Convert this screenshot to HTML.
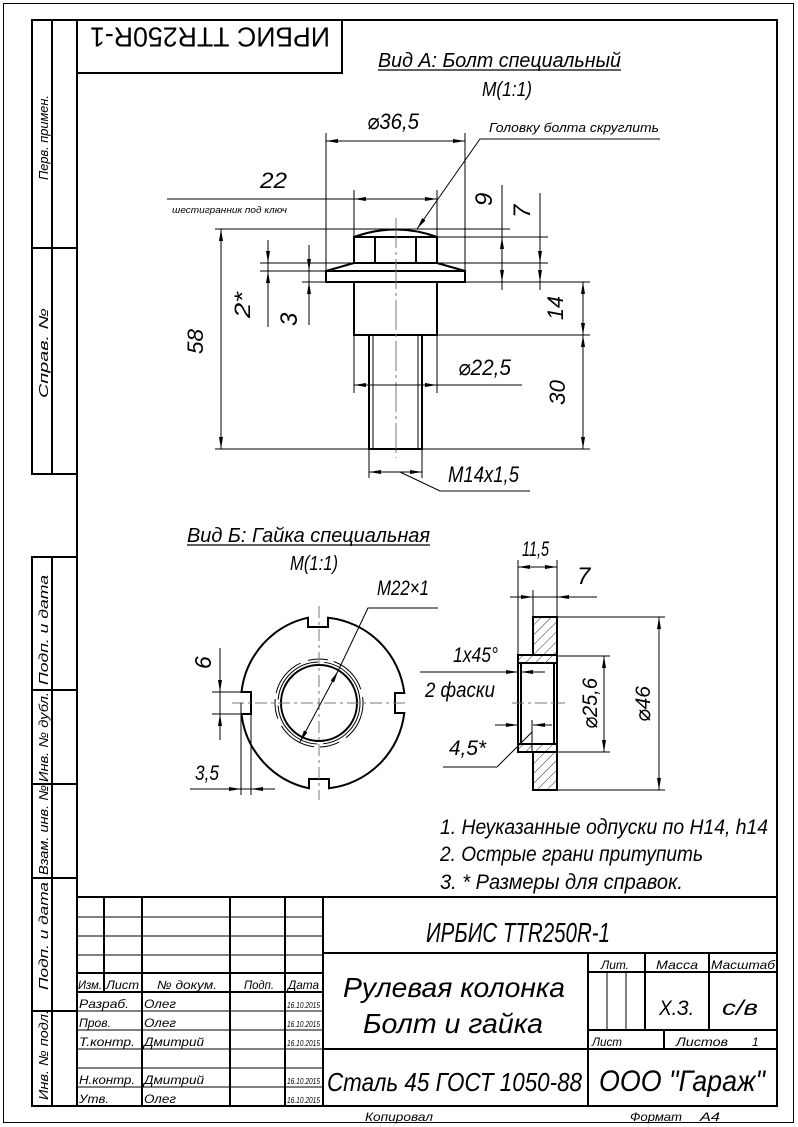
<!DOCTYPE html>
<html><head><meta charset="utf-8"><style>
html,body{margin:0;padding:0;background:#fff}
svg{display:block}
text{font-family:"Liberation Sans","DejaVu Sans",sans-serif;font-style:italic;fill:#000}
</style></head><body>
<svg width="798" height="1127" viewBox="0 0 798 1127" xmlns="http://www.w3.org/2000/svg">
<defs>
<marker id="a" viewBox="0 0 12 6" refX="12" refY="3" markerWidth="12" markerHeight="6" markerUnits="userSpaceOnUse" orient="auto-start-reverse"><path d="M0,1 L12,3 L0,5 z" fill="#000"/></marker>
<pattern id="h" width="7" height="7" patternUnits="userSpaceOnUse" patternTransform="rotate(45)"><line x1="0" y1="0" x2="0" y2="7" stroke="#000" stroke-width="0.8"/></pattern>
</defs>
<rect x="3.5" y="3.5" width="790" height="1119" fill="none" stroke="#000" stroke-width="1"/>
<rect x="77" y="20" width="700" height="1086" fill="none" stroke="#000" stroke-width="2"/>
<g fill="none" stroke="#000" stroke-width="2">
<rect x="32" y="20" width="45" height="454"/>
<line x1="52" y1="20" x2="52" y2="474"/>
<line x1="32" y1="248" x2="77" y2="248"/>
<rect x="32" y="557" width="45" height="549"/>
<line x1="52" y1="557" x2="52" y2="1106"/>
<line x1="32" y1="690" x2="77" y2="690"/>
<line x1="32" y1="784" x2="77" y2="784"/>
<line x1="32" y1="878" x2="77" y2="878"/>
<line x1="32" y1="1011" x2="77" y2="1011"/>
<rect x="77" y="20" width="265" height="53"/>
</g>
<g font-size="13">
<text transform="translate(48,180) rotate(-90)" textLength="85" lengthAdjust="spacingAndGlyphs">Перв. примен.</text>
<text transform="translate(48,398) rotate(-90)" textLength="90" lengthAdjust="spacingAndGlyphs">Справ. №</text>
<text transform="translate(48,685) rotate(-90)" textLength="110" lengthAdjust="spacingAndGlyphs">Подп. и дата</text>
<text transform="translate(48,782) rotate(-90)" textLength="90" lengthAdjust="spacingAndGlyphs">Инв. № дубл.</text>
<text transform="translate(48,875) rotate(-90)" textLength="90" lengthAdjust="spacingAndGlyphs">Взам. инв. №</text>
<text transform="translate(48,990) rotate(-90)" textLength="108" lengthAdjust="spacingAndGlyphs">Подп. и дата</text>
<text transform="translate(48,1100) rotate(-90)" textLength="90" lengthAdjust="spacingAndGlyphs">Инв. № подл.</text>
</g>
<text transform="translate(330,35) rotate(180)" font-size="28" textLength="240" lengthAdjust="spacingAndGlyphs" dominant-baseline="middle" style="font-style:normal">ИРБИС TTR250R-1</text>

<text x="378" y="67" font-size="20" textLength="243" lengthAdjust="spacingAndGlyphs">Вид А: Болт специальный</text>
<line x1="378" y1="70" x2="621" y2="70" stroke="#000" stroke-width="1.2"/>
<text x="482" y="96" font-size="20" textLength="50" lengthAdjust="spacingAndGlyphs">M(1:1)</text>

<g fill="none" stroke="#000" stroke-width="2">
<path d="M354,237 Q396,222 437,237"/>
<rect x="354" y="237" width="83" height="26"/>
<line x1="375" y1="237" x2="375" y2="263"/>
<line x1="416" y1="237" x2="416" y2="263"/>
<path d="M354,263 L326,271 M437,263 L465,271"/>
<rect x="326" y="271" width="139" height="11"/>
<rect x="354" y="282" width="83" height="53"/>
<rect x="369" y="335" width="53" height="114"/>
</g>
<g fill="none" stroke="#000" stroke-width="1">
<line x1="373" y1="335" x2="373" y2="449"/>
<line x1="418" y1="335" x2="418" y2="449"/>
<line x1="396" y1="218" x2="396" y2="458" stroke="#777" stroke-dasharray="30,4,3,4"/>
<line x1="326" y1="133" x2="326" y2="271"/>
<line x1="465" y1="133" x2="465" y2="271"/>
<line x1="354" y1="190" x2="354" y2="237"/>
<line x1="437" y1="190" x2="437" y2="237"/>
<line x1="215" y1="229" x2="510" y2="229"/>
<line x1="437" y1="237" x2="548" y2="237"/>
<line x1="260" y1="263" x2="354" y2="263"/>
<line x1="437" y1="263" x2="548" y2="263"/>
<line x1="260" y1="271" x2="326" y2="271"/>
<line x1="302" y1="282" x2="326" y2="282"/>
<line x1="465" y1="282" x2="590" y2="282"/>
<line x1="437" y1="335" x2="590" y2="335"/>
<line x1="215" y1="449" x2="590" y2="449"/>
<line x1="354" y1="335" x2="354" y2="393"/>
<line x1="437" y1="335" x2="437" y2="393"/>
<line x1="369" y1="449" x2="369" y2="478"/>
<line x1="422" y1="449" x2="422" y2="478"/>
<line x1="326" y1="141" x2="465" y2="141" marker-start="url(#a)" marker-end="url(#a)"/>
<line x1="167" y1="199" x2="354" y2="199"/>
<line x1="354" y1="199" x2="437" y2="199" marker-start="url(#a)" marker-end="url(#a)"/>
<polyline points="660,139 480,139 417,229" marker-end="url(#a)"/>
<line x1="221" y1="229" x2="221" y2="449" marker-start="url(#a)" marker-end="url(#a)"/>
<line x1="268" y1="240" x2="268" y2="263" marker-end="url(#a)"/>
<line x1="268" y1="263" x2="268" y2="271"/>
<line x1="268" y1="327" x2="268" y2="271" marker-end="url(#a)"/>
<line x1="309" y1="245" x2="309" y2="325"/>
<line x1="309" y1="250" x2="309" y2="271" marker-end="url(#a)"/>
<line x1="309" y1="303" x2="309" y2="282" marker-end="url(#a)"/>
<line x1="502" y1="185" x2="502" y2="290"/>
<line x1="502" y1="237" x2="502" y2="282" marker-start="url(#a)" marker-end="url(#a)"/>
<line x1="540" y1="193" x2="540" y2="290"/>
<line x1="540" y1="240" x2="540" y2="263" marker-end="url(#a)"/>
<line x1="540" y1="263" x2="540" y2="282" marker-end="url(#a)"/>
<line x1="583" y1="282" x2="583" y2="335" marker-start="url(#a)" marker-end="url(#a)"/>
<line x1="583" y1="335" x2="583" y2="449" marker-start="url(#a)" marker-end="url(#a)"/>
<line x1="354" y1="385" x2="522" y2="385"/>
<line x1="354" y1="385" x2="437" y2="385" marker-start="url(#a)" marker-end="url(#a)"/>
<line x1="369" y1="472" x2="422" y2="472" marker-start="url(#a)" marker-end="url(#a)"/>
<polyline points="400,472 440,491 530,491"/>
</g>
<g font-size="22">
<text x="367" y="129" textLength="52" lengthAdjust="spacingAndGlyphs">⌀36,5</text>
<text x="489" y="132" font-size="13" textLength="170" lengthAdjust="spacingAndGlyphs">Головку болта скруглить</text>
<text x="260" y="188" textLength="27" lengthAdjust="spacingAndGlyphs">22</text>
<text x="172" y="213" font-size="9" textLength="115" lengthAdjust="spacingAndGlyphs">шестигранник под ключ</text>
<text transform="translate(203,354) rotate(-90)" textLength="25" lengthAdjust="spacingAndGlyphs">58</text>
<text transform="translate(250,318) rotate(-90)" textLength="26" lengthAdjust="spacingAndGlyphs">2*</text>
<text transform="translate(297,326) rotate(-90)" font-size="24">3</text>
<text transform="translate(492,206) rotate(-90)" font-size="24">9</text>
<text transform="translate(530,218) rotate(-90)" font-size="24">7</text>
<text transform="translate(563,320) rotate(-90)" textLength="24" lengthAdjust="spacingAndGlyphs">14</text>
<text transform="translate(565,405) rotate(-90)" textLength="25" lengthAdjust="spacingAndGlyphs">30</text>
<text x="458" y="375" textLength="53" lengthAdjust="spacingAndGlyphs">⌀22,5</text>
<text x="448" y="482" textLength="71" lengthAdjust="spacingAndGlyphs">M14x1,5</text>
</g>

<text x="187" y="542" font-size="20" textLength="243" lengthAdjust="spacingAndGlyphs">Вид Б: Гайка специальная</text>
<line x1="187" y1="545" x2="430" y2="545" stroke="#000" stroke-width="1.2"/>
<text x="290" y="570" font-size="20" textLength="48" lengthAdjust="spacingAndGlyphs">M(1:1)</text>

<g fill="none" stroke="#000" stroke-width="2">
<path d="M308,617.7 L308,627 L328,627 L328,617.7 A86,86 0 0 1 404.3,693 L395,693 L395,713 L404.3,713 A86,86 0 0 1 329,788.3 L329,779 L309,779 L309,788.3 A86,86 0 0 1 241.5,714 L251,714 L251,692 L241.5,692 A86,86 0 0 1 308,617.7 Z"/>
<circle cx="319" cy="703" r="38"/>
</g>
<g fill="none" stroke="#000" stroke-width="1">
<circle cx="319" cy="703" r="41" stroke-dasharray="60,6"/>
<circle cx="319" cy="703" r="44" stroke-dasharray="40,8,20,6"/>
<line x1="319" y1="606" x2="319" y2="800" stroke="#777" stroke-dasharray="12,4,3,4"/>
<line x1="232" y1="703" x2="408" y2="703" stroke="#777" stroke-dasharray="12,4,3,4"/>
<line x1="300" y1="742" x2="338" y2="671" marker-start="url(#a)" marker-end="url(#a)"/>
<polyline points="338,671 368,608 438,608"/>
<line x1="212" y1="692" x2="251" y2="692"/>
<line x1="212" y1="714" x2="251" y2="714"/>
<line x1="220" y1="648" x2="220" y2="692" marker-end="url(#a)"/>
<line x1="220" y1="692" x2="220" y2="714"/>
<line x1="220" y1="740" x2="220" y2="714" marker-end="url(#a)"/>
<line x1="241" y1="703" x2="241" y2="795"/>
<line x1="251" y1="714" x2="251" y2="795"/>
<line x1="190" y1="789" x2="241" y2="789" marker-end="url(#a)"/>
<line x1="241" y1="789" x2="251" y2="789"/>
<line x1="275" y1="789" x2="251" y2="789" marker-end="url(#a)"/>
</g>
<g font-size="21">
<text x="377" y="595" textLength="52" lengthAdjust="spacingAndGlyphs">M22×1</text>
<text transform="translate(211,669) rotate(-90)" font-size="23">6</text>
<text x="195" y="780" textLength="24" lengthAdjust="spacingAndGlyphs">3,5</text>
</g>

<g stroke="#000" stroke-width="2">
<path d="M533,617 L557,617 L557,663 L518,663 L518,655 L533,655 Z" fill="url(#h)"/>
<path d="M533,790 L557,790 L557,744 L518,744 L518,752 L533,752 Z" fill="url(#h)"/>
<rect x="518" y="655" width="39" height="97" fill="none"/>
<rect x="521" y="663" width="33" height="81" fill="none"/>
</g>
<g fill="none" stroke="#000" stroke-width="1">
<line x1="512" y1="703" x2="565" y2="703" stroke="#777" stroke-dasharray="12,4,3,4"/>
<line x1="518" y1="560" x2="518" y2="655"/>
<line x1="557" y1="560" x2="557" y2="617"/>
<line x1="533" y1="590" x2="533" y2="617"/>
<line x1="518" y1="567" x2="557" y2="567" marker-start="url(#a)" marker-end="url(#a)"/>
<line x1="510" y1="597" x2="533" y2="597" marker-end="url(#a)"/>
<line x1="533" y1="597" x2="557" y2="597"/>
<line x1="597" y1="597" x2="557" y2="597" marker-end="url(#a)"/>
<line x1="557" y1="656" x2="610" y2="656"/>
<line x1="557" y1="752" x2="610" y2="752"/>
<line x1="604" y1="656" x2="604" y2="752" marker-start="url(#a)" marker-end="url(#a)"/>
<line x1="557" y1="617" x2="665" y2="617"/>
<line x1="557" y1="790" x2="665" y2="790"/>
<line x1="659" y1="617" x2="659" y2="790" marker-start="url(#a)" marker-end="url(#a)"/>
<line x1="420" y1="672" x2="518" y2="672" marker-end="url(#a)"/>
<line x1="545" y1="672" x2="521" y2="672" marker-end="url(#a)"/>
<line x1="495" y1="725" x2="518" y2="725" marker-end="url(#a)"/>
<line x1="552" y1="725" x2="533" y2="725" marker-end="url(#a)"/>
<line x1="532" y1="720" x2="532" y2="752"/>
<polyline points="532,732 497,767 443,767"/>
</g>
<g font-size="21">
<text x="522" y="556" textLength="27" lengthAdjust="spacingAndGlyphs">11,5</text>
<text x="577" y="584" font-size="24">7</text>
<text x="453" y="662" textLength="45" lengthAdjust="spacingAndGlyphs">1x45°</text>
<text x="425" y="697" textLength="70" lengthAdjust="spacingAndGlyphs">2 фаски</text>
<text x="449" y="755" textLength="37" lengthAdjust="spacingAndGlyphs">4,5*</text>
<text transform="translate(597,729) rotate(-90)" textLength="51" lengthAdjust="spacingAndGlyphs">⌀25,6</text>
<text transform="translate(650,722) rotate(-90)" textLength="36" lengthAdjust="spacingAndGlyphs">⌀46</text>
</g>

<g font-size="21">
<text x="440" y="834" textLength="328" lengthAdjust="spacingAndGlyphs">1. Неуказанные одпуски по H14, h14</text>
<text x="440" y="861" textLength="263" lengthAdjust="spacingAndGlyphs">2. Острые грани притупить</text>
<text x="440" y="889" textLength="243" lengthAdjust="spacingAndGlyphs">3.  * Размеры для справок.</text>
</g>

<g fill="none" stroke="#000" stroke-width="2">
<line x1="77" y1="897" x2="777" y2="897"/>
<line x1="104" y1="897" x2="104" y2="992"/>
<line x1="142" y1="897" x2="142" y2="1106"/>
<line x1="230" y1="897" x2="230" y2="1106"/>
<line x1="285" y1="897" x2="285" y2="1106"/>
<line x1="323" y1="897" x2="323" y2="1106"/>
<line x1="77" y1="973" x2="323" y2="973"/>
<line x1="77" y1="992" x2="323" y2="992"/>
<line x1="323" y1="953" x2="777" y2="953"/>
<line x1="323" y1="1049" x2="777" y2="1049"/>
<line x1="588" y1="953" x2="588" y2="1106"/>
<line x1="588" y1="972" x2="777" y2="972"/>
<line x1="588" y1="1030" x2="777" y2="1030"/>
<line x1="645" y1="953" x2="645" y2="1030"/>
<line x1="709" y1="953" x2="709" y2="1030"/>
<line x1="664" y1="1030" x2="664" y2="1049"/>
</g>
<g fill="none" stroke="#000" stroke-width="1">
<line x1="77" y1="917" x2="323" y2="917"/>
<line x1="77" y1="936" x2="323" y2="936"/>
<line x1="77" y1="955" x2="323" y2="955"/>
<line x1="77" y1="1011" x2="323" y2="1011"/>
<line x1="77" y1="1030" x2="323" y2="1030"/>
<line x1="77" y1="1049" x2="323" y2="1049"/>
<line x1="77" y1="1068" x2="323" y2="1068"/>
<line x1="77" y1="1087" x2="323" y2="1087"/>
<line x1="607" y1="972" x2="607" y2="1030"/>
<line x1="626" y1="972" x2="626" y2="1030"/>
</g>
<g font-size="12">
<text x="78" y="989" textLength="24" lengthAdjust="spacingAndGlyphs">Изм.</text>
<text x="106" y="989" textLength="33" lengthAdjust="spacingAndGlyphs">Лист</text>
<text x="157" y="989" textLength="60" lengthAdjust="spacingAndGlyphs">№ докум.</text>
<text x="244" y="989" textLength="30" lengthAdjust="spacingAndGlyphs">Подп.</text>
<text x="288" y="989" textLength="31" lengthAdjust="spacingAndGlyphs">Дата</text>
<text x="79" y="1008" textLength="50" lengthAdjust="spacingAndGlyphs">Разраб.</text>
<text x="144" y="1008" textLength="32" lengthAdjust="spacingAndGlyphs">Олег</text>
<text x="79" y="1027" textLength="32" lengthAdjust="spacingAndGlyphs">Пров.</text>
<text x="144" y="1027" textLength="32" lengthAdjust="spacingAndGlyphs">Олег</text>
<text x="79" y="1046" textLength="56" lengthAdjust="spacingAndGlyphs">Т.контр.</text>
<text x="144" y="1046" textLength="60" lengthAdjust="spacingAndGlyphs">Дмитрий</text>
<text x="79" y="1084" textLength="56" lengthAdjust="spacingAndGlyphs">Н.контр.</text>
<text x="144" y="1084" textLength="60" lengthAdjust="spacingAndGlyphs">Дмитрий</text>
<text x="79" y="1103" textLength="30" lengthAdjust="spacingAndGlyphs">Утв.</text>
<text x="144" y="1103" textLength="32" lengthAdjust="spacingAndGlyphs">Олег</text>
<g font-size="8">
<text x="287" y="1008" textLength="33" lengthAdjust="spacingAndGlyphs">16.10.2015</text>
<text x="287" y="1027" textLength="33" lengthAdjust="spacingAndGlyphs">16.10.2015</text>
<text x="287" y="1046" textLength="33" lengthAdjust="spacingAndGlyphs">16.10.2015</text>
<text x="287" y="1084" textLength="33" lengthAdjust="spacingAndGlyphs">16.10.2015</text>
<text x="287" y="1103" textLength="33" lengthAdjust="spacingAndGlyphs">16.10.2015</text>
</g>
<text x="601" y="969" textLength="28" lengthAdjust="spacingAndGlyphs">Лит.</text>
<text x="656" y="969" textLength="42" lengthAdjust="spacingAndGlyphs">Масса</text>
<text x="711" y="969" textLength="64" lengthAdjust="spacingAndGlyphs">Масштаб</text>
<text x="592" y="1046" textLength="30" lengthAdjust="spacingAndGlyphs">Лист</text>
<text x="676" y="1046" textLength="52" lengthAdjust="spacingAndGlyphs">Листов</text>
<text x="752" y="1046">1</text>
<text x="365" y="1121" textLength="68" lengthAdjust="spacingAndGlyphs">Копировал</text>
<text x="630" y="1121" textLength="52" lengthAdjust="spacingAndGlyphs">Формат</text>
<text x="700" y="1121" textLength="20" lengthAdjust="spacingAndGlyphs">А4</text>
</g>
<text x="426" y="942" font-size="28" textLength="184" lengthAdjust="spacingAndGlyphs">ИРБИС TTR250R-1</text>
<text x="343" y="997" font-size="28" textLength="222" lengthAdjust="spacingAndGlyphs">Рулевая колонка</text>
<text x="363" y="1033" font-size="28" textLength="180" lengthAdjust="spacingAndGlyphs">Болт и гайка</text>
<text x="327" y="1091" font-size="26" textLength="255" lengthAdjust="spacingAndGlyphs">Сталь 45 ГОСТ 1050-88</text>
<text x="599" y="1091" font-size="30" textLength="166" lengthAdjust="spacingAndGlyphs">ООО "Гараж"</text>
<text x="659" y="1015" font-size="21" textLength="35" lengthAdjust="spacingAndGlyphs">Х.З.</text>
<text x="722" y="1015" font-size="21" textLength="36" lengthAdjust="spacingAndGlyphs">с/в</text>
</svg>
</body></html>
